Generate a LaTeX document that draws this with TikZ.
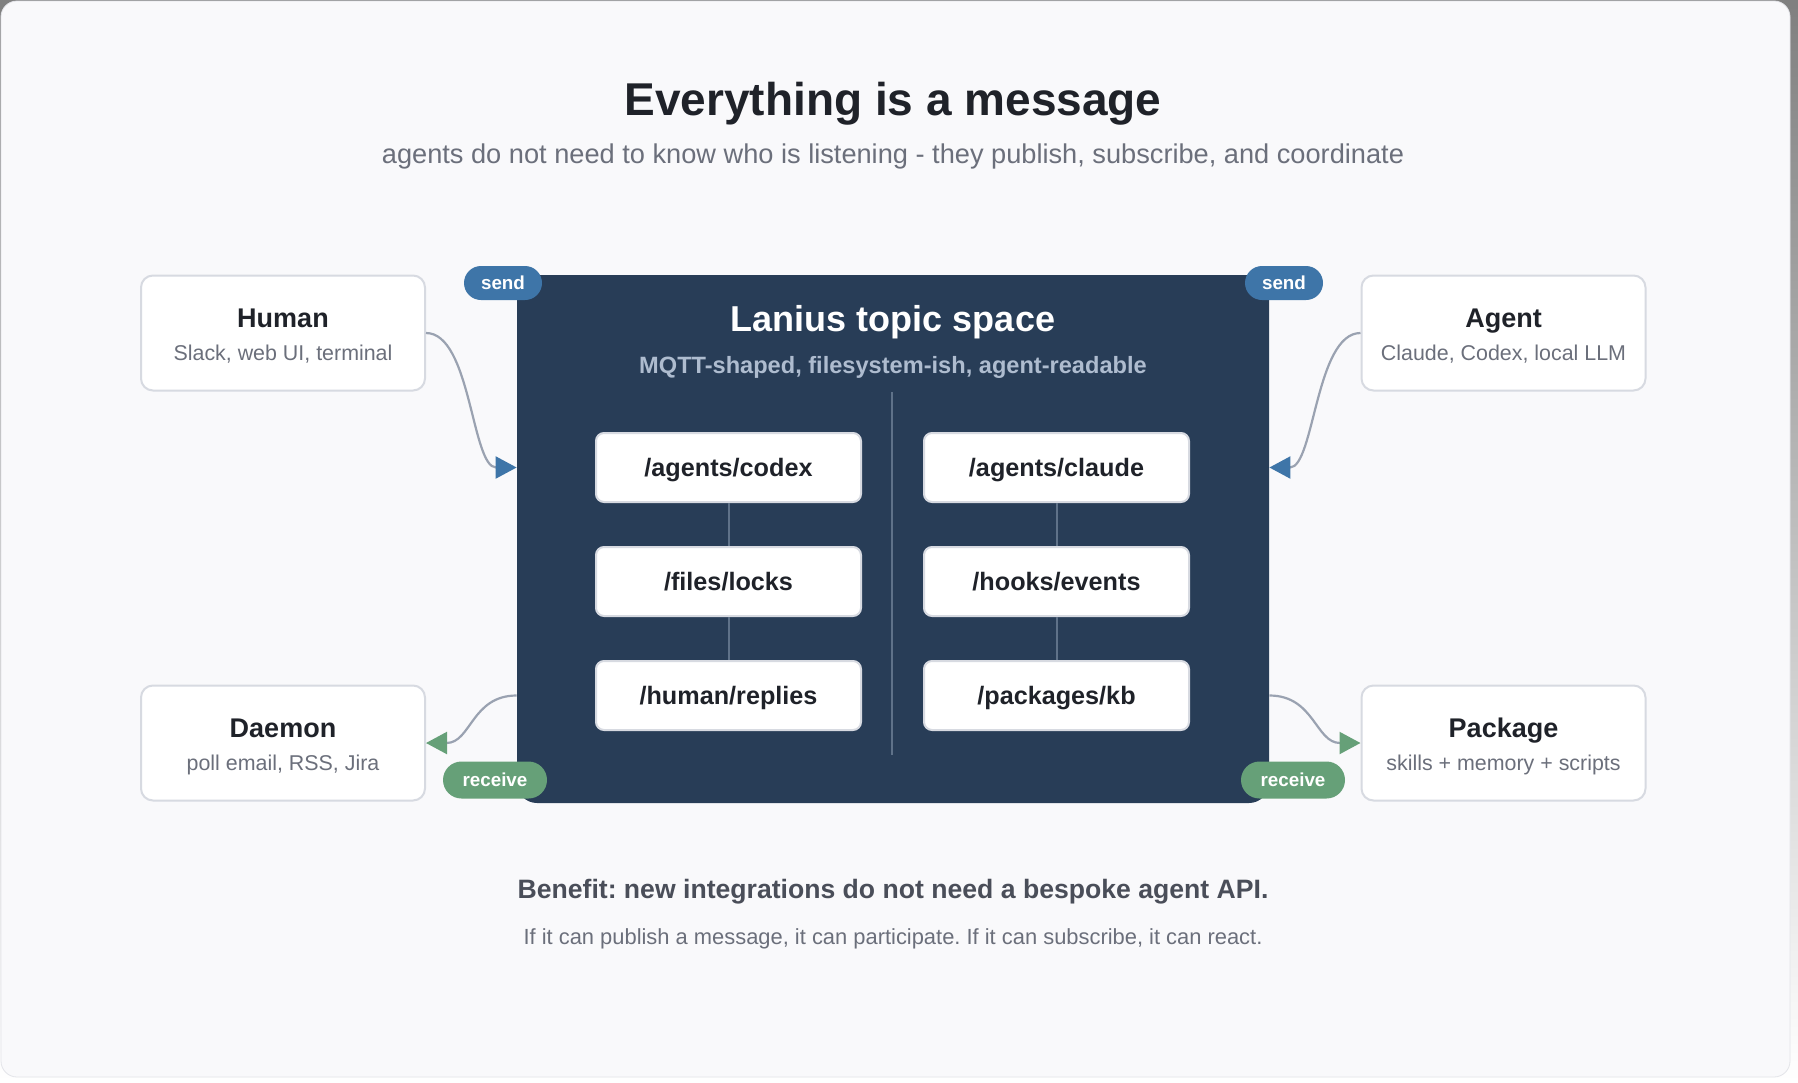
\documentclass[tikz,border=0pt]{standalone}
\usepackage{fontspec}
\setmainfont{Liberation Sans}
\usetikzlibrary{positioning,calc,arrows.meta,shapes.misc}
\frenchspacing

\definecolor{pagebg}{HTML}{F9F9FB}
\definecolor{shade}{HTML}{E7E7EA}
\definecolor{cardline}{HTML}{E3E4E9}
\definecolor{navy}{HTML}{283D57}
\definecolor{boxline}{HTML}{D7DAE1}
\definecolor{ink}{HTML}{1F2229}
\definecolor{muted}{HTML}{6B6F7B}
\definecolor{mqtt}{HTML}{AEBCCF}
\definecolor{rule}{HTML}{5F7289}
\definecolor{sendc}{HTML}{3E75A8}
\definecolor{recvc}{HTML}{66A078}
\definecolor{wire}{HTML}{9AA2B1}
\definecolor{benefit}{HTML}{4A4E59}

\begin{document}
\begin{tikzpicture}[x=0.5pt,y=-0.5pt,
	src/.style={draw=boxline,line width=1pt,fill=white,rounded corners=6pt,minimum width=142pt,minimum height=57.5pt},
	topic/.style={draw=boxline,line width=1pt,fill=white,rounded corners=4pt,minimum width=132.5pt,minimum height=34.5pt,text=ink,text height=9pt,text depth=0pt,font=\fontsize{12.6}{15}\selectfont\bfseries},
	pill/.style={rounded rectangle,inner sep=0pt,minimum width=39pt,minimum height=17pt,text=white,font=\fontsize{9.4}{11}\selectfont\bfseries},
	wire/.style={draw=wire,line width=1.1pt},
	head/.style={-{Triangle[length=10.5pt,width=11pt,color=#1]}}]

\useasboundingbox (0,0) rectangle (1798,1082);
\fill[shade] (0,0) rectangle (1798,1082);
\draw[cardline,fill=pagebg,rounded corners=8pt] (1,1) rectangle (1790,1077);

\node[font=\fontsize{23}{27}\selectfont\bfseries,text=ink](title) at (893,103.5) {Everything is a message};
\node[font=\fontsize{13.6}{16}\selectfont,text=muted](sub) at (893,156) {agents do not need to know who is listening - they publish, subscribe, and coordinate};

\node[fill=navy,rounded corners=10pt,minimum width=376pt,minimum height=264pt,inner sep=0pt](space) at (893,539) {};
\node[text=white,font=\fontsize{18}{22}\selectfont\bfseries](spacet) at (893,322.5) {Lanius topic space};
\node[text=mqtt,font=\fontsize{11.8}{14}\selectfont\bfseries](spaces) at (893,367) {MQTT-shaped, filesystem-ish, agent-readable};
\draw[rule,line width=1pt] (892,392) -- (892,755);

\node[topic](t1) at (728.5,467.5) {/agents/codex};
\node[topic,below=21.5pt of t1](t2) {/files/locks};
\node[topic,below=21.5pt of t2](t3) {/human/replies};
\node[topic](t4) at (1056.5,467.5) {/agents/claude};
\node[topic,below=21.5pt of t4](t5) {/hooks/events};
\node[topic,below=21.5pt of t5](t6) {/packages/kb};
\foreach \x/\y in {t1/t2,t2/t3,t4/t5,t5/t6}{
	\draw[rule,line width=1pt](\x)--(\y);
}

\foreach \n/\x/\y/\t/\s in {hum/283/333/Human/{Slack, web UI, terminal},agt/1503.5/333/Agent/{Claude, Codex, local LLM},dae/283/743/Daemon/{poll email, RSS, Jira},pkg/1503.5/743/Package/{skills + memory + scripts}}{
	\node[src](\n) at (\x,\y) {};
	\node[font=\fontsize{13.5}{16}\selectfont\bfseries,text=ink,text height=9.7pt,text depth=0pt](\n-t) at ($(\n)+(0,-15)$) {\t};
	\node[font=\fontsize{10.7}{13}\selectfont,text=muted,text height=7.7pt,text depth=0pt](\n-s) at ($(\n)+(0,20)$) {\s};
}

\draw[wire,head=sendc](hum.east) .. controls +(45,0) and +(-45,0) .. (space.west|-t1);
\draw[wire,head=sendc](agt.west) .. controls +(-45,0) and +(45,0) .. (space.east|-t4);
\draw[wire,head=recvc](space.west|-t3) .. controls +(-45,0) and +(45,0) .. (dae.east);
\draw[wire,head=recvc](space.east|-t6) .. controls +(45,0) and +(-45,0) .. (pkg.west);

\node[pill,fill=sendc](s1) at (503,283) {send};
\node[pill,fill=sendc](s2) at (1284,283) {send};
\node[pill,fill=recvc,minimum width=52pt,minimum height=18.5pt](r1) at (495,780) {receive};
\node[pill,fill=recvc,minimum width=52pt,minimum height=18.5pt](r2) at (1293,780) {receive};

\node[font=\fontsize{13.3}{16}\selectfont\bfseries,text=benefit](ben) at (893,892) {Benefit: new integrations do not need a bespoke agent API.};
\node[font=\fontsize{10.95}{13}\selectfont,text=muted](foot) at (893,939) {If it can publish a message, it can participate. If it can subscribe, it can react.};
\end{tikzpicture}
\end{document}
